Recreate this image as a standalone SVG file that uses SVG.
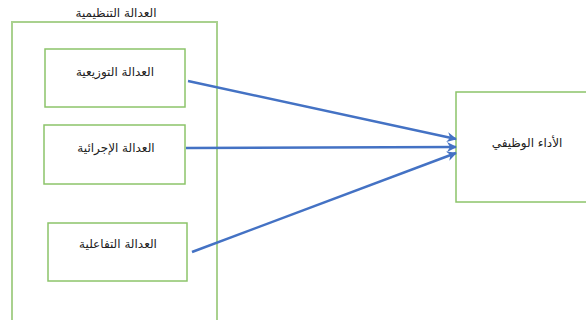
<svg xmlns="http://www.w3.org/2000/svg" width="586" height="320" viewBox="0 0 586 320">
<style>
.box{fill:#fff;stroke:#8CC46A;stroke-width:1.5}
.outer{fill:none;stroke:#A9D18E;stroke-width:2}
.lbl{font-family:"DejaVu Sans",sans-serif;font-size:12px;fill:#222;text-anchor:middle}
.c{stroke:#4472C4;stroke-width:2.5;fill:none}
</style>
<defs>
<marker id="ah" viewBox="0 0 10 10" refX="9" refY="5" markerWidth="4" markerHeight="4" orient="auto" markerUnits="strokeWidth">
<path d="M0,0 L10,5 L0,10 L3,5 Z" fill="#4472C4"/>
</marker>
</defs>
<rect width="586" height="320" fill="#fff"/>
<g id="outer">
<rect class="outer" x="12" y="22" width="205" height="310"/>
<text class="lbl" x="116" y="17">العدالة التنظيمية</text>
</g>
<g id="n1">
<rect class="box" x="45" y="49" width="140" height="58"/>
<text class="lbl" x="115" y="76">العدالة التوزيعية</text>
</g>
<g id="n2">
<rect class="box" x="44" y="125" width="141" height="59"/>
<text class="lbl" x="116" y="152">العدالة الإجرائية</text>
</g>
<g id="n3">
<rect class="box" x="48" y="223" width="139" height="58"/>
<text class="lbl" x="118" y="248">العدالة التفاعلية</text>
</g>
<g id="n4">
<rect class="box" x="456" y="92" width="135" height="110"/>
<text class="lbl" x="527" y="147">الأداء الوظيفي</text>
</g>
<g id="connectors">
<line class="c" x1="188" y1="81" x2="456" y2="139" marker-end="url(#ah)"/>
<line class="c" x1="186" y1="148" x2="456" y2="147" stroke-width="3.5" marker-end="url(#ah)"/>
<line class="c" x1="192" y1="252" x2="456" y2="153" marker-end="url(#ah)"/>
</g>
</svg>
